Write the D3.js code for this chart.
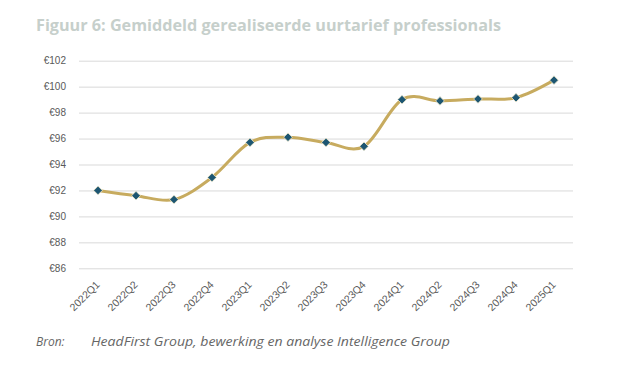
<!DOCTYPE html>
<html><head><meta charset="utf-8">
<script src="https://cdn.jsdelivr.net/npm/d3@7"></script>
<style>body{margin:0;background:#fff}svg{display:block}</style>
</head><body>
<svg id="c" width="640" height="392"></svg>
<script>
const categories = ["2022Q1","2022Q2","2022Q3","2022Q4","2023Q1","2023Q2","2023Q3","2023Q4","2024Q1","2024Q2","2024Q3","2024Q4","2025Q1"];
const values = [92.0,91.6,91.3,93.0,95.7,96.1,95.7,95.4,99.0,98.9,99.05,99.15,100.5];
const yTicks = [86,88,90,92,94,96,98,100,102];

(function(){
const svg = d3.select("#c");
const mL = 79, mR = 573, mT = 60.7, mB = 268.3;
const x = d3.scalePoint().domain(categories).range([mL, mR]).padding(0.5);
const y = d3.scaleLinear().domain([86,102]).range([mB, mT]);

svg.append("text").attr("x",36).attr("y",31)
  .attr("font-family","Open Sans").attr("font-weight","bold").attr("font-size",15.5)
  .attr("fill","#c6cfcb").attr("textLength",465).attr("lengthAdjust","spacingAndGlyphs")
  .text("Figuur 6: Gemiddeld gerealiseerde uurtarief professionals");

const yAxis = d3.axisLeft(y).tickValues(yTicks).tickSize(-(mR-mL)).tickFormat(d=>"€"+d);
const ga = svg.append("g").attr("transform",`translate(${mL},0)`).call(yAxis);
ga.select(".domain").remove();
ga.selectAll(".tick line").attr("stroke","#d9d9d9").attr("stroke-width",1);
ga.selectAll(".tick text").attr("x",-13).attr("font-family","Liberation Sans, Arial").attr("font-size",10).attr("fill","#595959");

const xAxis = d3.axisBottom(x).tickSize(0);
const gx = svg.append("g").attr("transform",`translate(0,${mB})`).call(xAxis);
gx.select(".domain").remove();
gx.selectAll(".tick text").attr("font-family","Liberation Sans, Arial").attr("font-size",10.5).attr("fill","#595959")
  .attr("text-anchor","end").attr("dy",0).attr("y",0)
  .attr("transform","translate(2,17) rotate(-45)");

const line = d3.line().x((d,i)=>x(categories[i])).y(d=>y(d)).curve(d3.curveCardinal.tension(0));
svg.append("path").datum(values).attr("d",line).attr("fill","none").attr("stroke","#c7ab5f").attr("stroke-width",3);

const sym = d3.symbol().type(d3.symbolDiamond2).size(48);
svg.selectAll(".pt").data(values).enter().append("path")
  .attr("transform",(d,i)=>`translate(${x(categories[i])},${y(d)})`)
  .attr("d",sym).attr("fill","#1d5672").attr("stroke","#efe8cc").attr("stroke-width",0.8);

const f = svg.append("g").attr("font-family","Open Sans").attr("font-style","italic").attr("font-size",12).attr("fill","#666");
f.append("text").attr("x",36).attr("y",346).text("Bron:");
f.append("text").attr("x",91).attr("y",346).attr("textLength",359).attr("lengthAdjust","spacingAndGlyphs").text("HeadFirst Group, bewerking en analyse Intelligence Group");
})();
</script>
</body></html>
